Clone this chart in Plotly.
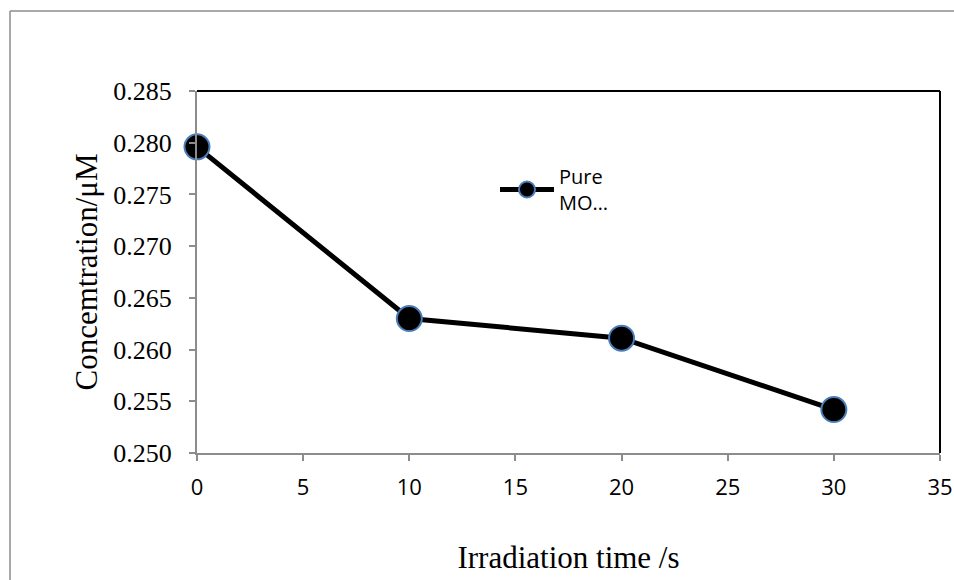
import plotly.graph_objects as go

time_s = [0, 10, 20, 30]
concentration = [0.2796, 0.2630, 0.2611, 0.2542]
series_name = "Pure<br>MO…"
y_ticks = [0.250, 0.255, 0.260, 0.265, 0.270, 0.275, 0.280, 0.285]
x_ticks = [0, 5, 10, 15, 20, 25, 30, 35]

fig = go.Figure()
fig.add_trace(go.Scatter(
    x=time_s, y=concentration, name=series_name, mode="lines+markers",
    line=dict(color="black", width=5),
    marker=dict(size=25, color="black", line=dict(color="#4a7ebb", width=2)),
    cliponaxis=False,
))

W, H = 954, 580
L, T = 197, 91
R = W - 940
B = H - 453
pw, ph = W - L - R, H - T - B

def px_x(p):  # window pixel -> paper x
    return (p - L) / pw

def px_y(p):  # window pixel -> paper y
    return (H - B - p) / ph

fig.update_layout(
    width=W, height=H,
    margin=dict(l=L, r=R, t=T, b=B, autoexpand=False),
    paper_bgcolor="white", plot_bgcolor="white",
    showlegend=True,
    legend=dict(x=px_x(495), y=px_y(157), xanchor="left", yanchor="top",
                font=dict(family="Open Sans", size=20, color="black"),
                bgcolor="rgba(0,0,0,0)", itemwidth=54),
    xaxis=dict(range=[0, 35], tickvals=x_ticks, showgrid=False, zeroline=False,
               showline=True, linecolor="#8c8c8c", linewidth=2,
               ticks="outside", ticklen=6, tickcolor="#8c8c8c", tickwidth=2,
               tickfont=dict(family="Open Sans", size=22, color="black"),
               ticklabelstandoff=8,
               title=dict(text="Irradiation time /s", standoff=46,
                          font=dict(family="Liberation Serif", size=31, color="black"))),
    yaxis=dict(range=[0.25, 0.285], tickvals=y_ticks, tickformat=".3f",
               showgrid=False, zeroline=False,
               showline=True, linecolor="#8c8c8c", linewidth=2,
               ticks="outside", ticklen=6, tickcolor="#8c8c8c", tickwidth=2,
               tickfont=dict(family="Liberation Serif", size=26, color="black"),
               ticklabelstandoff=12,
               title=dict(text="Concemtration/μM", standoff=6,
                          font=dict(family="Liberation Serif", size=31, color="black"))),
)

# top and right frame lines (black)
fig.add_shape(type="line", xref="paper", yref="paper", x0=0, x1=1, y0=1, y1=1,
              line=dict(color="black", width=2))
fig.add_shape(type="line", xref="paper", yref="paper", x0=1, x1=1, y0=0, y1=1,
              line=dict(color="black", width=2))
# outer chart border (left and top edges visible)
fig.add_shape(type="line", xref="paper", yref="paper",
              x0=px_x(10), x1=px_x(10), y0=px_y(600), y1=px_y(11),
              line=dict(color="#8c8c8c", width=1.5), layer="below")
fig.add_shape(type="line", xref="paper", yref="paper",
              x0=px_x(10), x1=px_x(980), y0=px_y(11), y1=px_y(11),
              line=dict(color="#8c8c8c", width=1.5), layer="below")

fig.write_html(
    "out.html",
    config={"displayModeBar": False},
    post_script="document.body.style.margin='0';document.body.style.overflow='hidden';",
)
